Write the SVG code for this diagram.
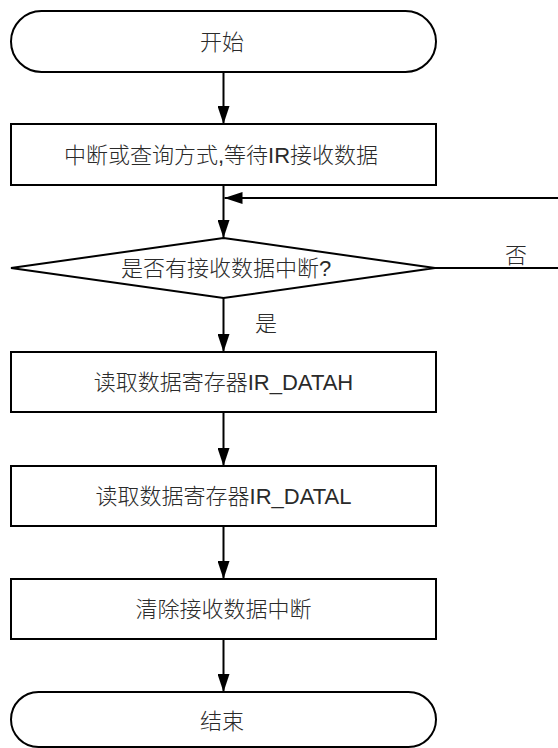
<svg xmlns="http://www.w3.org/2000/svg" width="558" height="748" viewBox="0 0 558 748">
<defs>
<style>
.s{fill:#fff;stroke:#000;stroke-width:2}
.t{font-family:"Liberation Sans","Noto Sans CJK SC",sans-serif;font-size:22px;font-weight:300;fill:#2a2a2a;text-anchor:middle}
.c{fill:none;stroke:#000;stroke-width:2}
</style>
<marker id="ah" viewBox="0 0 18 12" refX="18" refY="6" markerWidth="18" markerHeight="12" markerUnits="userSpaceOnUse" orient="auto">
<path d="M0,0 L18,6 L0,12 Z" fill="#000"/>
</marker>
</defs>
<rect width="558" height="748" fill="#fff"/>
<g id="connectors">
<path class="c" d="M223.5,72 V124" marker-end="url(#ah)"/>
<path class="c" d="M223.5,185 V238" marker-end="url(#ah)"/>
<path class="c" d="M558,198 H224.5" marker-end="url(#ah)"/>
<path class="c" d="M435,268 H558"/>
<path class="c" d="M223.5,298 V352" marker-end="url(#ah)"/>
<path class="c" d="M223.5,412 V466" marker-end="url(#ah)"/>
<path class="c" d="M223.5,526 V579" marker-end="url(#ah)"/>
<path class="c" d="M223.5,639 V692" marker-end="url(#ah)"/>
<text class="t" x="516" y="263">否</text>
<text class="t" x="266" y="331">是</text>
</g>
<g id="start">
<rect class="s" x="11" y="11" width="425" height="61" rx="30.5" ry="30.5"/>
<text class="t" x="222" y="50">开始</text>
</g>
<g id="wait">
<rect class="s" x="11" y="124" width="425" height="61"/>
<text class="t" x="221" y="163">中断或查询方式,等待IR接收数据</text>
</g>
<g id="decision">
<polygon class="s" points="223.5,238 435,268 223.5,298 11,268"/>
<text class="t" x="226" y="276">是否有接收数据中断?</text>
</g>
<g id="readH">
<rect class="s" x="11" y="352" width="425" height="60"/>
<text class="t" x="223.5" y="390">读取数据寄存器IR_DATAH</text>
</g>
<g id="readL">
<rect class="s" x="11" y="466" width="425" height="60"/>
<text class="t" x="223.5" y="504">读取数据寄存器IR_DATAL</text>
</g>
<g id="clear">
<rect class="s" x="11" y="579" width="425" height="60"/>
<text class="t" x="223.5" y="617">清除接收数据中断</text>
</g>
<g id="end">
<rect class="s" x="11" y="692" width="425" height="55" rx="27.5" ry="27.5"/>
<text class="t" x="222" y="729">结束</text>
</g>
</svg>
